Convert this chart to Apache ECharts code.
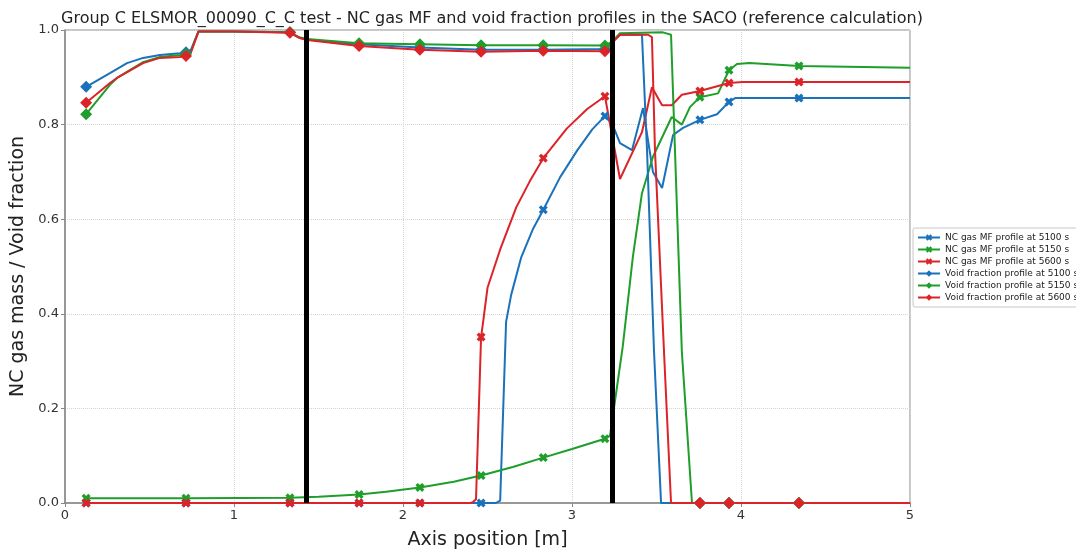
<!DOCTYPE html>
<html>
<head>
<meta charset="utf-8">
<script src="https://cdn.jsdelivr.net/npm/echarts@6/dist/echarts.min.js"></script>
<style>
  html, body { margin: 0; padding: 0; background: #fff; }
  #chart { width: 1076px; height: 549px; }
</style>
</head>
<body>
<div id="chart"></div>
<script>
// positions where markers are drawn (markevery)
var markX = [0.125, 0.716, 1.331, 1.74, 2.1, 2.462, 2.83, 3.195, 3.757, 3.929, 4.343];
// vertical boundaries
var boundaryX = [1.432, 3.243];

// NC gas MF profiles
var ncX5100 = [0.125, 0.716, 1.331, 1.74, 2.1, 2.462, 2.55, 2.575, 2.61, 2.64, 2.7, 2.77, 2.83, 2.93, 3.03, 3.12, 3.195, 3.24, 3.284, 3.355, 3.42, 3.479, 3.533, 3.598, 3.657, 3.757, 3.858, 3.929, 3.965, 4.343, 5.0];
var ncY5100 = [0, 0, 0, 0, 0, 0, 0, 0.005, 0.383, 0.44, 0.52, 0.58, 0.62, 0.689, 0.745, 0.79, 0.818, 0.80, 0.761, 0.746, 0.835, 0.70, 0.666, 0.778, 0.793, 0.81, 0.822, 0.848, 0.856, 0.856, 0.856];

var ncX5150 = [0.125, 0.716, 1.331, 1.5, 1.74, 1.9, 2.1, 2.3, 2.462, 2.65, 2.83, 3.0, 3.195, 3.225, 3.30, 3.36, 3.414, 3.479, 3.59, 3.65, 3.698, 3.757, 3.864, 3.929, 3.976, 4.05, 4.343, 5.0];
var ncY5150 = [0.01, 0.01, 0.011, 0.013, 0.018, 0.024, 0.033, 0.045, 0.058, 0.076, 0.096, 0.114, 0.136, 0.142, 0.33, 0.52, 0.655, 0.732, 0.816, 0.80, 0.837, 0.858, 0.866, 0.915, 0.928, 0.93, 0.924, 0.92];

var ncX5600 = [0.125, 0.716, 1.331, 1.74, 2.1, 2.40, 2.414, 2.432, 2.462, 2.473, 2.5, 2.574, 2.67, 2.75, 2.83, 2.97, 3.09, 3.195, 3.284, 3.414, 3.473, 3.533, 3.59, 3.65, 3.757, 3.929, 4.01, 4.343, 5.0];
var ncY5600 = [0, 0, 0, 0, 0, 0, 0.002, 0.008, 0.351, 0.38, 0.455, 0.535, 0.625, 0.68, 0.729, 0.792, 0.833, 0.86, 0.685, 0.784, 0.879, 0.841, 0.841, 0.863, 0.871, 0.888, 0.89, 0.89, 0.89];

// void fraction profiles
var vfX5100 = [0.125, 0.266, 0.367, 0.462, 0.562, 0.68, 0.716, 0.745, 0.79, 1.0, 1.331, 1.39, 1.432, 1.74, 2.1, 2.462, 2.83, 3.195, 3.235, 3.284, 3.414, 3.444, 3.485, 3.527, 3.757, 3.929, 4.343, 5.0];
var vfY5100 = [0.88, 0.909, 0.93, 0.941, 0.947, 0.951, 0.953, 0.958, 0.997, 0.997, 0.995, 0.983, 0.98, 0.97, 0.963, 0.958, 0.958, 0.96, 0.975, 0.99, 0.99, 0.746, 0.323, 0, 0, 0, 0, 0];

var vfX5150 = [0.125, 0.266, 0.313, 0.462, 0.562, 0.68, 0.716, 0.745, 0.79, 1.0, 1.331, 1.39, 1.432, 1.74, 2.1, 2.462, 2.83, 3.195, 3.235, 3.284, 3.538, 3.586, 3.65, 3.71, 3.757, 3.929, 4.343, 5.0];
var vfY5150 = [0.822, 0.884, 0.90, 0.932, 0.943, 0.947, 0.949, 0.955, 0.997, 0.997, 0.995, 0.984, 0.981, 0.972, 0.97, 0.968, 0.968, 0.967, 0.975, 0.993, 0.995, 0.99, 0.32, 0, 0, 0, 0, 0];

var vfX5600 = [0.125, 0.266, 0.313, 0.462, 0.562, 0.68, 0.716, 0.745, 0.79, 1.0, 1.331, 1.39, 1.432, 1.74, 2.1, 2.462, 2.83, 3.195, 3.235, 3.284, 3.45, 3.473, 3.491, 3.544, 3.586, 3.757, 3.929, 4.343, 5.0];
var vfY5600 = [0.846, 0.888, 0.90, 0.93, 0.941, 0.943, 0.945, 0.952, 0.997, 0.997, 0.994, 0.983, 0.979, 0.966, 0.958, 0.954, 0.956, 0.955, 0.972, 0.99, 0.99, 0.985, 0.746, 0.323, 0, 0, 0, 0, 0];

var names = ['NC gas MF profile at 5100 s', 'NC gas MF profile at 5150 s', 'NC gas MF profile at 5600 s',
             'Void fraction profile at 5100 s', 'Void fraction profile at 5150 s', 'Void fraction profile at 5600 s'];
var colors = ['#1a72bb', '#1e9e2a', '#dc2328'];

// filled "X" marker (like matplotlib 'X')
var xMark = 'path://M0,2.6 L2.6,0 L5,2.4 L7.4,0 L10,2.6 L7.6,5 L10,7.4 L7.4,10 L5,7.6 L2.6,10 L0,7.4 L2.4,5 Z';

function isMarked(x) {
    for (var i = 0; i < markX.length; i++) {
        if (Math.abs(markX[i] - x) < 1e-6) return true;
    }
    return false;
}

function buildData(xs, ys) {
    var d = [];
    for (var i = 0; i < xs.length; i++) {
        var item = {value: [xs[i], ys[i]]};
        if (!isMarked(xs[i])) item.symbol = 'none';
        d.push(item);
    }
    return d;
}

function makeSeries(name, color, xs, ys, symbol, size) {
    return {
        name: name,
        type: 'line',
        data: buildData(xs, ys),
        symbol: symbol,
        symbolSize: size,
        showSymbol: true,
        lineStyle: {color: color, width: 2},
        itemStyle: {color: color, borderWidth: 0},
        emphasis: {disabled: true},
        animation: false
    };
}

var chart = echarts.init(document.getElementById('chart'));

var series = [
    makeSeries(names[0], colors[0], ncX5100, ncY5100, xMark, 9),
    makeSeries(names[1], colors[1], ncX5150, ncY5150, xMark, 9),
    makeSeries(names[2], colors[2], ncX5600, ncY5600, xMark, 9),
    makeSeries(names[3], colors[0], vfX5100, vfY5100, 'diamond', 12),
    makeSeries(names[4], colors[1], vfX5150, vfY5150, 'diamond', 12),
    makeSeries(names[5], colors[2], vfX5600, vfY5600, 'diamond', 12)
];

// black boundary lines
series.push({
    name: 'boundaries',
    type: 'line',
    data: [],
    z: 10,
    animation: false,
    markLine: {
        silent: true,
        symbol: ['none', 'none'],
        label: {show: false},
        lineStyle: {color: '#000', width: 5, type: 'solid'},
        data: boundaryX.map(function (x) { return {xAxis: x}; })
    }
});

var option = {
    backgroundColor: '#fff',
    animation: false,
    textStyle: {fontFamily: 'DejaVu Sans'},
    title: {
        text: 'Group C ELSMOR_00090_C_C test - NC gas MF and void fraction profiles in the SACO (reference calculation)',
        left: 487,
        textAlign: 'center',
        top: 6,
        textStyle: {fontSize: 16, fontWeight: 'normal', color: '#222', fontFamily: 'DejaVu Sans'}
    },
    legend: {
        data: names,
        orient: 'vertical',
        left: 913,
        top: 228,
        itemWidth: 22,
        itemHeight: 8,
        itemGap: 3,
        padding: [5, 4, 5, 4],
        backgroundColor: '#fff',
        borderColor: '#c8c8c8',
        borderWidth: 1,
        borderRadius: 2,
        textStyle: {fontSize: 9, color: '#222', fontFamily: 'DejaVu Sans'}
    },
    grid: {
        left: 65, right: 166, top: 30, bottom: 46,
        containLabel: false, outerBoundsMode: 'none',
        show: true, borderColor: '#888', borderWidth: 1, backgroundColor: 'transparent'
    },
    xAxis: {
        type: 'value',
        min: 0, max: 5, interval: 1,
        name: 'Axis position [m]',
        nameLocation: 'middle',
        nameGap: 28,
        nameTextStyle: {fontSize: 19, color: '#222'},
        axisLine: {lineStyle: {color: '#888', width: 1.5}},
        axisTick: {show: true, length: 4, lineStyle: {color: '#888'}},
        axisLabel: {fontSize: 13, color: '#333', margin: 6},
        splitLine: {show: true, lineStyle: {color: '#d4d4d4', type: 'dotted', width: 1}}
    },
    yAxis: {
        type: 'value',
        min: 0, max: 1, interval: 0.2,
        name: 'NC gas mass / Void fraction',
        nameLocation: 'middle',
        nameGap: 35,
        nameTextStyle: {fontSize: 19, color: '#222'},
        axisLine: {show: true, lineStyle: {color: '#888', width: 1.5}},
        axisTick: {show: true, length: 4, lineStyle: {color: '#888'}},
        axisLabel: {fontSize: 13, color: '#333', margin: 6, formatter: function (v) { return v.toFixed(1); }},
        splitLine: {show: true, lineStyle: {color: '#d4d4d4', type: 'dotted', width: 1}}
    },
    series: series
};

chart.setOption(option);
</script>
</body>
</html>
